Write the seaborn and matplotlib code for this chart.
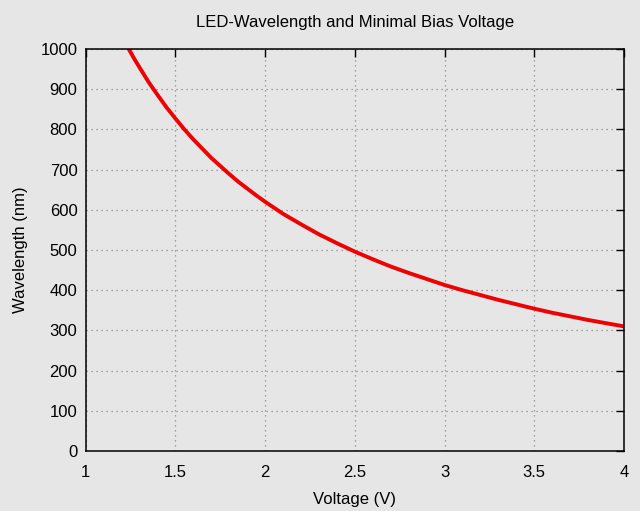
import matplotlib
matplotlib.use("Agg")
import matplotlib.pyplot as plt
import seaborn as sns
import pandas as pd

voltage = [1.24, 1.27, 1.3, 1.35, 1.4, 1.45, 1.5, 1.55, 1.6, 1.65, 1.7, 1.75, 1.8, 1.85, 1.9, 1.95, 2.0,
           2.1, 2.2, 2.3, 2.4, 2.5, 2.6, 2.7, 2.8, 2.9, 3.0, 3.1, 3.2, 3.3, 3.4, 3.5, 3.6, 3.7, 3.8, 3.9, 4.0]
wavelength = [1000, 976, 954, 918, 886, 855, 827, 800, 775, 752, 729, 709, 689, 670, 653, 636, 620,
              590, 564, 539, 517, 496, 477, 459, 443, 428, 413, 400, 388, 376, 365, 354, 344, 335, 326, 318, 310]
x_ticks = [1, 1.5, 2, 2.5, 3, 3.5, 4]
x_labels = ["1", "1.5", "2", "2.5", "3", "3.5", "4"]
y_ticks = [0, 100, 200, 300, 400, 500, 600, 700, 800, 900, 1000]

df = pd.DataFrame({"Voltage": voltage, "Wavelength": wavelength})

sns.set_style("white")
plt.rcParams['font.family'] = ['Liberation Sans', 'DejaVu Sans']
plt.rcParams['text.color'] = 'black'
plt.rcParams['axes.labelcolor'] = 'black'
bg = "#e6e6e6"
fig = plt.figure(figsize=(6.4, 5.11), dpi=100, facecolor=bg)
ax = fig.add_axes([0.134, 0.1174, 0.841, 0.7866])
ax.set_facecolor(bg)

sns.lineplot(data=df, x="Voltage", y="Wavelength", ax=ax, color="#ee0000", linewidth=2.8)

ax.set_xlim(1, 4)
ax.set_ylim(0, 1000)
ax.set_xticks(x_ticks)
ax.set_xticklabels(x_labels)
ax.set_yticks(y_ticks)
ax.grid(True, color="#888888", linestyle=(0, (1, 3)), linewidth=0.9)
ax.tick_params(direction="in", length=6, width=1, top=True, right=True, labelsize=12,
               colors="black", labelcolor="black")
ax.tick_params(axis="x", pad=10)
ax.tick_params(axis="y", pad=6)
for s in ax.spines.values():
    s.set_color("black")
    s.set_linewidth(1.1)
    s.set_visible(True)
ax.set_xlabel("Voltage (V)", fontsize=12, labelpad=9, color="black")
ax.set_ylabel("Wavelength (nm)", fontsize=12, labelpad=9, color="black")
ax.set_title("LED-Wavelength and Minimal Bias Voltage", fontsize=12, pad=16, color="black")
fig.savefig("out.png", dpi=100, facecolor=bg)
